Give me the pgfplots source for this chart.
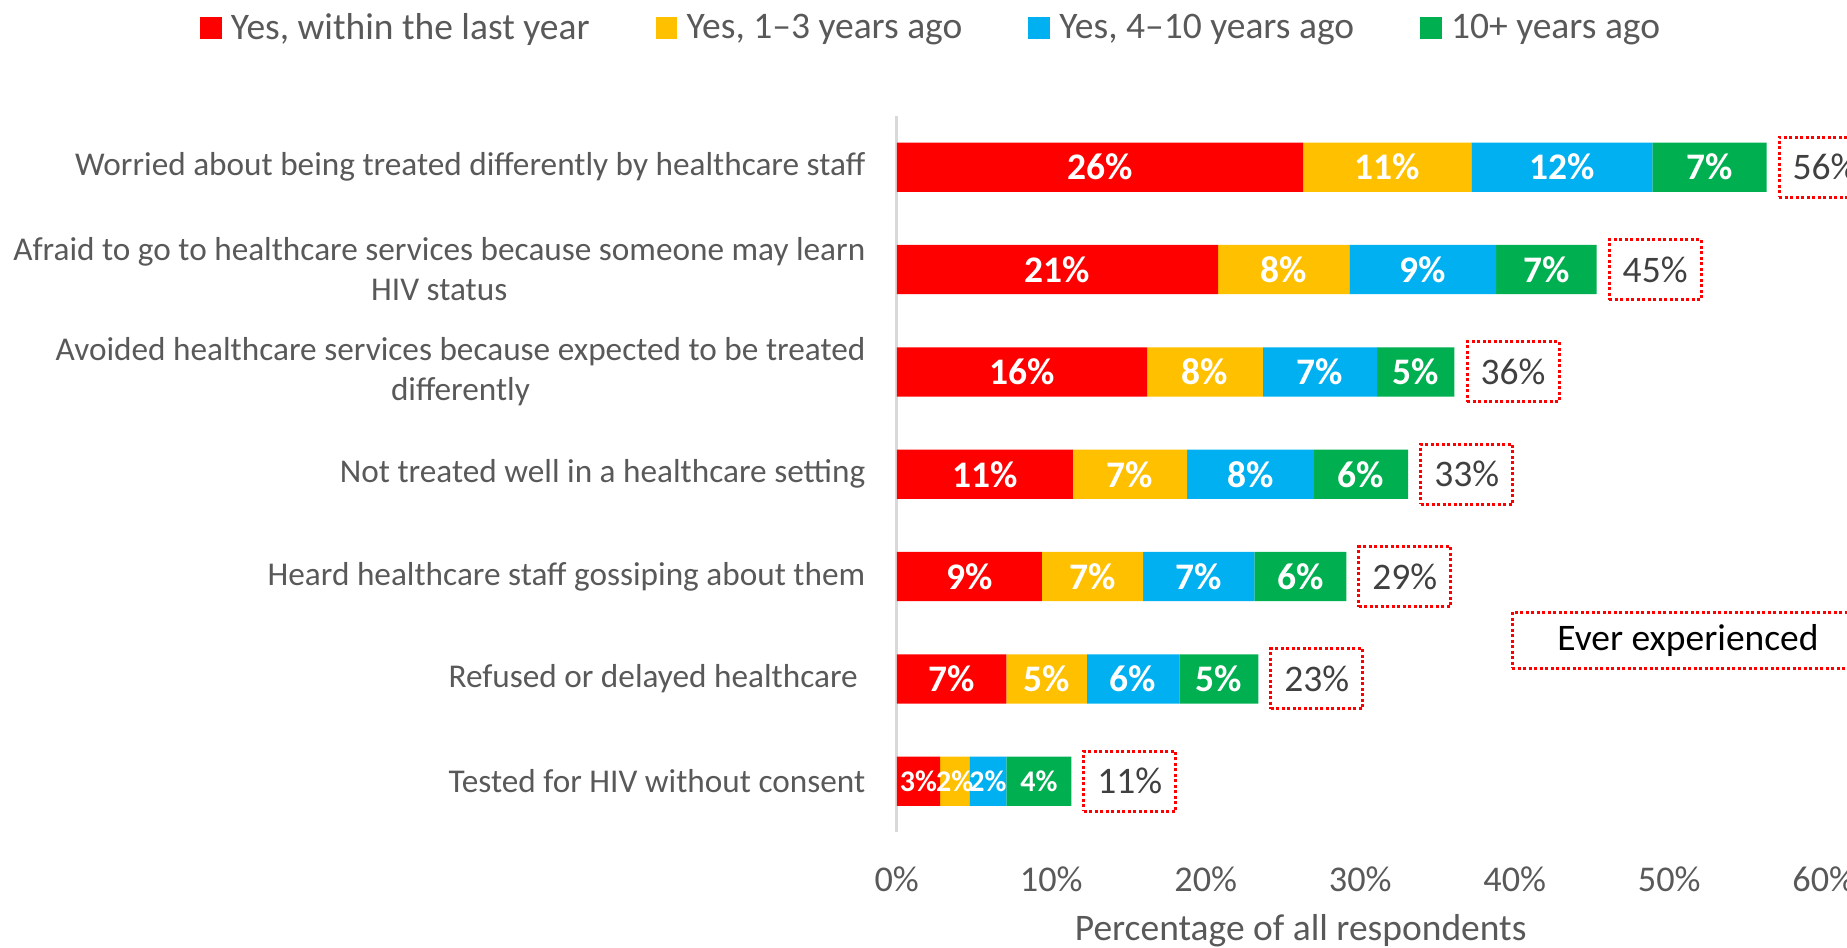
\documentclass[border=0pt]{standalone}
\usepackage{pgfplots}
\pgfplotsset{compat=1.18}
\usepackage{fontspec}
\setmainfont{Carlito}
\definecolor{cRed}{HTML}{FF0000}
\definecolor{cYel}{HTML}{FFC000}
\definecolor{cBlue}{HTML}{00B0F0}
\definecolor{cGreen}{HTML}{00B050}
\definecolor{txtgray}{HTML}{595959}
\definecolor{totgray}{HTML}{404040}
\definecolor{axgray}{HTML}{D9D9D9}
\protected\def\sm#1{{\fontsize{12}{14}\selectfont #1}}
\pgfplotsset{
  common/.style={
    at={(358.7pt,46.2pt)}, anchor=south west,
    scale only axis, width=370.8pt, height=286.6pt,
    xmin=0, xmax=60, ymin=-0.5, ymax=6.5, clip=false,
  },
  sq/.style={legend image code/.code={\fill[##1] (0pt,-4.35pt) rectangle (8.7pt,4.35pt);}},
}
\begin{document}
\begin{tikzpicture}
\path[use as bounding box, clip] (0,0) rectangle (738.8pt,379.2pt);
\begin{axis}[common,
  xbar stacked, bar width=19.7pt,
  axis x line*=bottom, axis y line*=left,
  x axis line style={draw=none},
  y axis line style={draw=axgray, line width=1.2pt},
  tick style={draw=none}, major tick length=0pt,
  xtick={0,10,20,30,40,50,60},
  xticklabels={0\%,10\%,20\%,30\%,40\%,50\%,60\%},
  xticklabel style={anchor=base, yshift=-23.7pt, inner sep=0pt, text=txtgray, font=\fontsize{14.5}{17}\selectfont},
  ytick={0,1,2,3,4,5,6},
  yticklabels={Tested for HIV without consent, Refused or delayed healthcare\kern3pt, Heard healthcare staff gossiping about them, Not treated well in a healthcare setting, {Avoided healthcare services because expected to be treated\\differently}, {Afraid to go to healthcare services because someone may learn\\HIV status}, Worried about being treated differently by healthcare staff},
  yticklabel style={anchor=east, align=center, inner sep=0pt, xshift=-12.4pt, text=txtgray, font=\fontsize{13.3}{16}\selectfont},
  xlabel={Percentage of all respondents},
  xlabel style={at={(axis description cs:0.4357,-0.1502)}, anchor=base, inner sep=0pt, text=txtgray, font=\fontsize{15}{18}\selectfont},
  nodes near coords, point meta=explicit symbolic,
  nodes near coords style={anchor=center, text=white, font=\bfseries\fontsize{15}{18}\selectfont},
  legend columns=4,
  legend style={draw=none, fill=none, at={(axis description cs:0.0359,1.1225)}, anchor=center,
    /tikz/every odd column/.append style={column sep=3.7pt},
    /tikz/every even column/.append style={column sep=26.4pt},
    nodes={inner sep=0pt, text=txtgray, font=\fontsize{15}{18}\selectfont}},
]
\addplot[fill=cRed, draw=none, sq] coordinates {(2.8,0)[\sm{3\%}] (7.1,1)[7\%] (9.4,2)[9\%] (11.4,3)[11\%] (16.2,4)[16\%] (20.8,5)[21\%] (26.3,6)[26\%]};
\addplot[fill=cYel, draw=none, sq] coordinates {(1.9,0)[\sm{2\%}] (5.2,1)[5\%] (6.55,2)[7\%] (7.4,3)[7\%] (7.5,4)[8\%] (8.5,5)[8\%] (10.9,6)[11\%]};
\addplot[fill=cBlue, draw=none, sq] coordinates {(2.4,0)[\sm{2\%}] (6.0,1)[6\%] (7.2,2)[7\%] (8.2,3)[8\%] (7.4,4)[7\%] (9.5,5)[9\%] (11.7,6)[12\%]};
\addplot[fill=cGreen, draw=none, sq] coordinates {(4.2,0)[\sm{4\%}] (5.1,1)[5\%] (5.95,2)[6\%] (6.1,3)[6\%] (5.0,4)[5\%] (6.5,5)[7\%] (7.4,6)[7\%]};
\legend{{Yes, within the last year}, {Yes, 1--3 years ago}, {Yes, 4--10 years ago}, {10+ years ago}}
\end{axis}
\begin{axis}[common, hide axis]
\addplot[draw=none, mark=none, nodes near coords, point meta=explicit symbolic,
  nodes near coords style={anchor=west, xshift=4.4pt, draw=cRed, densely dotted, line width=1.2pt,
    minimum width=36.8pt, minimum height=24pt, inner sep=0pt, text=totgray, font=\fontsize{15}{18}\selectfont}]
  coordinates {(11.3,0)[11\%] (23.4,1)[23\%] (29.1,2)[29\%] (33.1,3)[33\%] (36.1,4)[36\%] (45.3,5)[45\%] (56.3,6)[56\%]};
\node[draw=cRed, densely dotted, line width=1.2pt, minimum width=140.6pt, minimum height=22.4pt, inner sep=0pt, text=black, font=\fontsize{15}{18}\selectfont] at (axis cs:51.21,1.377) {Ever experienced};
\end{axis}
\end{tikzpicture}
\end{document}
